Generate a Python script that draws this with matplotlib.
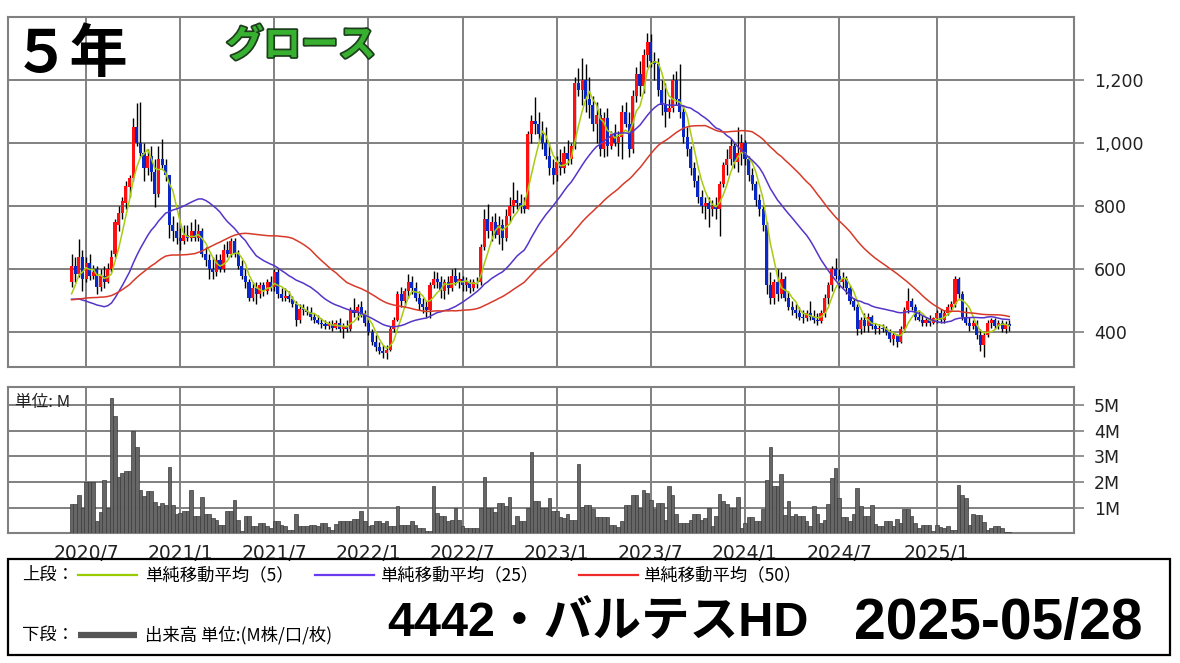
import numpy as np
import pandas as pd
import matplotlib
matplotlib.use("Agg")
import matplotlib.pyplot as plt
from matplotlib import patheffects
from matplotlib.patches import Rectangle

plt.rcParams["font.family"] = ["DejaVu Sans", "Noto Sans CJK JP"]
JP = ["Noto Sans CJK JP", "DejaVu Sans"]

# weekly candles, 2020-06-08 .. 2025-05-26
dates = pd.date_range("2020-06-08", periods=260, freq="W-MON")

opens = [
    560, 610, 585, 640, 570, 620, 580, 600, 545, 580,
    560, 600, 650, 740, 780, 810, 860, 890, 1050, 1000,
    970, 920, 960, 910, 840, 950, 930, 900, 740, 720,
    700, 690, 710, 700, 720, 700, 720, 650, 630, 600,
    590, 630, 600, 660, 650, 690, 650, 610, 580, 560,
    510, 540, 520, 550, 530, 560, 545, 590, 520, 510,
    515, 505, 490, 440, 475, 470, 465, 450, 440, 430,
    425, 420, 425, 415, 430, 410, 420, 410, 470, 460,
    480, 455, 430, 400, 370, 355, 340, 335, 345, 410,
    440, 520, 500, 530, 560, 540, 510, 490, 480, 470,
    550, 570, 560, 530, 560, 540, 580, 560, 570, 550,
    560, 540, 560, 560, 670, 760, 720, 750, 710, 740,
    700, 770, 800, 820, 810, 800, 790, 1030, 1070, 1060,
    1030, 1000, 960, 920, 900, 940, 920, 970, 950, 990,
    1190, 1170, 1200, 1140, 1120, 1060, 1090, 980, 1080, 990,
    1030, 1000, 1020, 1100, 1060, 980, 1150, 1220, 1180, 1280,
    1320, 1260, 1250, 1170, 1120, 1100, 1110, 1200, 1140, 1100,
    1020, 980, 920, 880, 830, 800, 810, 790, 800, 790,
    870, 930, 950, 990, 940, 970, 1000, 950, 900, 870,
    820, 790, 740, 550, 510, 560, 520, 570, 510, 480,
    470, 460, 450, 445, 460, 450, 440, 435, 460, 510,
    550, 600, 580, 560, 570, 540, 500, 480, 410, 440,
    420, 450, 420, 410, 415, 410, 400, 380, 390, 370,
    410, 470, 500, 480, 450, 440, 430, 440, 430, 445,
    460, 440, 460, 480, 490, 570, 520, 450, 430, 420,
    430, 390, 360, 390, 430, 440, 420, 430, 410, 425,
]
highs = [
    650, 640, 695, 660, 640, 650, 615, 610, 600, 610,
    620, 660, 760, 800, 830, 880, 900, 1080, 1126, 1131,
    1000, 980, 990, 950, 990, 1014, 950, 900, 770, 750,
    730, 740, 740, 750, 760, 745, 730, 670, 650, 640,
    650, 650, 680, 690, 700, 700, 660, 630, 600, 570,
    560, 560, 560, 560, 570, 580, 600, 600, 540, 540,
    530, 515, 500, 490, 490, 485, 480, 460, 455, 445,
    440, 435, 440, 440, 445, 430, 440, 480, 509, 490,
    500, 470, 440, 410, 390, 370, 360, 360, 420, 450,
    530, 545, 540, 584, 580, 560, 530, 510, 500, 560,
    594, 590, 580, 570, 580, 600, 605, 590, 580, 575,
    570, 570, 575, 680, 790, 807, 770, 780, 770, 760,
    790, 830, 876, 850, 840, 830, 1040, 1090, 1147, 1100,
    1070, 1050, 1000, 950, 960, 980, 990, 1010, 1000, 1210,
    1237, 1269, 1250, 1210, 1150, 1130, 1110, 1100, 1110, 1040,
    1060, 1040, 1120, 1130, 1100, 1170, 1240, 1260, 1300, 1349,
    1345, 1290, 1270, 1200, 1190, 1140, 1220, 1230, 1250, 1120,
    1050, 990, 940, 900, 850, 830, 830, 820, 830, 880,
    940, 980, 1014, 1000, 1050, 1030, 1010, 960, 920, 880,
    840, 800, 750, 590, 570, 600, 590, 580, 530, 500,
    490, 480, 470, 470, 500, 470, 460, 470, 520, 560,
    610, 637, 600, 590, 580, 550, 510, 490, 450, 460,
    460, 455, 430, 425, 425, 420, 410, 400, 395, 420,
    480, 541, 510, 490, 470, 455, 450, 455, 450, 470,
    475, 470, 490, 500, 578, 575, 530, 480, 450, 440,
    440, 410, 400, 440, 445, 445, 440, 440, 435, 440,
]
lows = [
    545, 560, 575, 530, 560, 565, 570, 520, 530, 540,
    555, 590, 640, 720, 760, 790, 830, 880, 990, 960,
    880, 900, 880, 796, 830, 920, 880, 700, 690, 680,
    660, 680, 690, 690, 690, 690, 640, 610, 570, 568,
    580, 590, 590, 640, 640, 640, 600, 570, 540, 500,
    500, 490, 510, 515, 520, 530, 530, 510, 500, 500,
    495, 480, 420, 430, 455, 455, 440, 430, 425, 415,
    410, 410, 405, 410, 400, 382, 400, 405, 450, 440,
    450, 420, 390, 360, 340, 330, 320, 316, 340, 400,
    435, 480, 485, 510, 520, 500, 470, 460, 450, 446,
    540, 540, 510, 505, 520, 530, 550, 540, 530, 530,
    525, 530, 540, 550, 660, 700, 690, 700, 680, 660,
    690, 750, 780, 790, 780, 780, 790, 1000, 1030, 1010,
    980, 950, 900, 871, 880, 900, 905, 930, 935, 980,
    1150, 1120, 1100, 1080, 1040, 1000, 960, 956, 960, 980,
    990, 960, 950, 1050, 956, 970, 1130, 1150, 1160, 1240,
    1240, 1200, 1150, 1090, 1050, 1080, 1100, 1120, 1080, 1000,
    960, 900, 860, 810, 780, 760, 733, 770, 760, 706,
    860, 900, 930, 920, 910, 930, 930, 880, 850, 800,
    770, 720, 520, 490, 490, 500, 510, 500, 470, 455,
    445, 440, 430, 435, 440, 430, 424, 430, 450, 490,
    530, 570, 540, 540, 520, 490, 470, 393, 395, 400,
    400, 410, 395, 395, 400, 390, 370, 360, 355, 365,
    400, 460, 470, 440, 435, 420, 419, 420, 425, 430,
    430, 430, 455, 470, 480, 510, 440, 424, 403, 410,
    380, 340, 323, 385, 414, 410, 410, 400, 398, 405,
]
closes = [
    610, 585, 640, 570, 620, 580, 590, 545, 580, 560,
    600, 640, 750, 780, 815, 865, 890, 1050, 1000, 970,
    920, 960, 910, 840, 950, 930, 900, 740, 720, 700,
    690, 710, 700, 720, 700, 720, 650, 630, 600, 590,
    630, 600, 660, 650, 690, 650, 610, 580, 560, 510,
    540, 520, 550, 530, 560, 545, 590, 520, 510, 515,
    505, 490, 440, 475, 470, 465, 450, 440, 430, 425,
    420, 425, 415, 430, 410, 420, 410, 470, 460, 480,
    455, 430, 400, 370, 355, 340, 335, 345, 410, 440,
    520, 500, 530, 560, 540, 510, 490, 480, 470, 550,
    570, 560, 530, 560, 540, 580, 560, 570, 550, 560,
    540, 560, 560, 670, 760, 720, 750, 710, 740, 700,
    770, 800, 820, 810, 800, 790, 1030, 1070, 1060, 1030,
    1000, 960, 920, 900, 940, 920, 970, 950, 990, 1190,
    1170, 1200, 1140, 1120, 1060, 1090, 980, 1080, 990, 1030,
    1000, 1020, 1100, 1060, 980, 1150, 1220, 1180, 1280, 1320,
    1260, 1250, 1170, 1120, 1100, 1110, 1200, 1140, 1100, 1020,
    980, 920, 880, 830, 800, 810, 790, 800, 790, 870,
    930, 950, 990, 940, 970, 1000, 950, 900, 870, 820,
    790, 740, 550, 510, 560, 520, 570, 510, 480, 470,
    460, 450, 445, 460, 450, 440, 435, 460, 510, 550,
    600, 580, 560, 570, 540, 500, 480, 410, 440, 420,
    450, 420, 410, 415, 410, 400, 380, 390, 370, 410,
    470, 500, 480, 450, 440, 430, 440, 430, 445, 460,
    440, 460, 480, 490, 570, 520, 450, 430, 420, 430,
    390, 360, 390, 430, 440, 420, 430, 410, 425, 420,
]
# weekly volume, millions of shares
volume = [
    1.15, 1.15, 1.5, 1.0, 2.0, 2.0, 2.0, 0.5, 0.85, 2.07,
    1.0, 5.27, 4.58, 2.2, 2.36, 2.45, 2.45, 4.0, 3.36, 1.7,
    1.45, 1.64, 1.64, 1.23, 1.06, 1.2, 1.12, 2.58, 1.12, 0.77,
    0.8, 0.86, 0.86, 1.7, 0.66, 0.66, 1.42, 0.76, 0.76, 0.6,
    0.53, 0.34, 0.34, 0.86, 0.86, 1.29, 0.53, 0.1, 0.69, 0.69,
    0.27, 0.27, 0.4, 0.4, 0.27, 0.2, 0.47, 0.47, 0.34, 0.27,
    0.14, 0.14, 0.77, 0.27, 0.27, 0.27, 0.34, 0.34, 0.27, 0.4,
    0.4, 0.25, 0.12, 0.37, 0.47, 0.47, 0.5, 0.5, 0.57, 0.57,
    0.86, 0.5, 0.27, 0.34, 0.5, 0.5, 0.4, 0.47, 0.27, 0.27,
    1.08, 0.34, 0.34, 0.34, 0.47, 0.34, 0.2, 0.2, 0.08, 0.08,
    1.86, 0.8, 0.66, 0.66, 0.47, 0.53, 1.0, 0.53, 0.27, 0.2,
    0.2, 0.2, 0.2, 1.0, 2.2, 1.0, 1.0, 0.83, 1.19, 1.19,
    1.08, 1.42, 0.34, 0.69, 0.47, 0.47, 1.0, 3.17, 1.28, 1.28,
    1.0, 1.0, 1.36, 0.86, 0.86, 0.64, 0.6, 0.77, 0.53, 0.53,
    2.72, 1.03, 1.12, 1.12, 0.93, 0.64, 0.64, 0.64, 0.64, 0.34,
    0.34, 0.25, 0.47, 1.12, 1.12, 1.49, 1.49, 1.0, 1.7, 1.58,
    1.29, 0.93, 1.19, 1.19, 0.53, 1.86, 1.49, 0.76, 0.4, 0.4,
    0.4, 0.53, 0.76, 0.76, 0.53, 0.6, 1.0, 0.27, 0.69, 1.55,
    1.28, 1.15, 1.0, 1.0, 1.42, 0.2, 0.4, 0.62, 0.62, 0.47,
    0.47, 0.93, 2.07, 3.38, 1.86, 1.86, 2.3, 0.73, 1.28, 0.66,
    0.77, 0.69, 0.69, 0.47, 0.27, 1.06, 0.77, 0.4, 0.53, 1.15,
    2.14, 2.53, 1.36, 0.64, 0.64, 0.47, 0.77, 1.77, 1.08, 0.66,
    0.66, 1.12, 0.38, 0.27, 0.27, 0.47, 0.47, 0.27, 0.56, 0.4,
    0.93, 0.93, 0.66, 0.4, 0.2, 0.34, 0.34, 0.34, 0.08, 0.34,
    0.25, 0.2, 0.3, 0.12, 0.12, 1.88, 1.51, 1.36, 0.34, 0.77,
    0.7, 0.7, 0.43, 0.12, 0.2, 0.27, 0.27, 0.2, 0.05, 0.05,
]
# closes of the 49 weeks before the window (estimated from where the
# 25/50-week averages start), only used to seed the moving averages
pre_closes = [
    540, 550, 530, 520, 545, 560, 530, 525, 540, 510,
    500, 480, 470, 460, 470, 480, 470, 460, 470, 480,
    490, 470, 480, 490, 525,
    580, 620, 660, 700, 690, 680, 660, 640, 635,
    520, 430, 340, 300, 320, 330, 350, 360, 380, 400,
    420, 450, 480, 520, 550,
]

price_ticks = [400, 600, 800, 1000, 1200]
price_labels = ["400", "600", "800", "1,000", "1,200"]
vol_ticks = [1, 2, 3, 4, 5]
vol_labels = ["1M", "2M", "3M", "4M", "5M"]
month_labels = ["2020/7", "2021/1", "2021/7", "2022/1", "2022/7",
                "2023/1", "2023/7", "2024/1", "2024/7", "2025/1"]
ma_periods = [5, 25, 50]
ma_colors = ["#99cc00", "#6a3cf0", "#ee2a2a"]
ma_line_colors = ["#a8cc10", "#5535c8", "#d83a2a"]

o = np.array(opens, dtype=float)
h = np.array(highs, dtype=float)
l = np.array(lows, dtype=float)
c = np.array(closes, dtype=float)
x = np.arange(len(c))

all_closes = pd.Series(pre_closes + closes, dtype=float)
n_pre = len(pre_closes)
mas = [all_closes.rolling(p).mean().iloc[n_pre:].values for p in ma_periods]

tick_pos = []
for s in month_labels:
    yy, mm = s.split("/")
    start = pd.Timestamp(int(yy), int(mm), 1)
    tick_pos.append(int(np.argmax(dates >= start)))

fig = plt.figure(figsize=(11.8, 6.63), dpi=100)
fig.patch.set_facecolor("white")

ax = fig.add_axes([0.00636, 0.4469, 0.9042, 0.5279])
axv = fig.add_axes([0.00636, 0.1956, 0.9042, 0.2211])

grid_col = "#808080"
for a in (ax, axv):
    a.set_xlim(-17.7, 277)
    a.set_xticks(tick_pos)
    a.grid(True, color=grid_col, lw=1.4, zorder=0)
    a.set_axisbelow(True)
    for sp in a.spines.values():
        sp.set_color(grid_col)
        sp.set_linewidth(1.5)
    a.yaxis.tick_right()
    a.tick_params(axis="y", length=7, width=1.2, color=grid_col,
                  labelsize=12.5, pad=7, labelcolor="#222222")

# price panel
ax.set_ylim(291, 1401)
ax.set_yticks(price_ticks, price_labels)
ax.tick_params(axis="x", length=0, labelbottom=False)

up = c >= o
body_col = np.where(up, "#ff1010", "#0a28c8")
ax.vlines(x, l, h, color="black", lw=1.0, zorder=3)
ax.bar(x, c - o, bottom=o, width=0.85, color=body_col, lw=0, zorder=4)
for ma, col in zip(mas, ma_line_colors):
    ax.plot(x, ma, color=col, lw=1.1, zorder=5)

# volume panel
axv.set_ylim(0, 5.72)
axv.set_yticks(vol_ticks, vol_labels)
axv.set_xticklabels(month_labels)
axv.tick_params(axis="x", length=0, labelsize=13.5, pad=8,
                labelcolor="#222222")
axv.bar(x, volume, width=1.0, color="#666666", edgecolor="#3a3a3a",
        lw=0.5, zorder=3)

# overlay in pixel coordinates for titles and the legend box
ov = fig.add_axes([0, 0, 1, 1], facecolor="none")
ov.set_xlim(0, 1180)
ov.set_ylim(663, 0)
ov.axis("off")

ov.text(12, 55, "５年", fontsize=42, fontweight="bold", family=JP,
        va="center", ha="left", color="black")
ov.text(226, 45, "グロース", fontsize=27, fontweight="bold", family=JP,
        va="center", ha="left", color="#38b030",
        path_effects=[patheffects.withStroke(linewidth=2.5,
                                             foreground="#1d3d1d")])
ov.text(15, 402, "単位: M", fontsize=12, family=JP, va="center",
        ha="left", color="#222222")

ov.add_patch(Rectangle((7.5, 559), 1162.5, 96, fill=False,
                       ec="black", lw=1.6))
ov.text(22, 575, "上段：", fontsize=12.5, family=JP, va="center")
legend_items = [(78, 145, "単純移動平均（5）"),
                (315, 380, "単純移動平均（25）"),
                (579, 643, "単純移動平均（50）")]
for (lx, tx, label), col in zip(legend_items, ma_colors):
    ov.plot([lx, lx + 59], [575, 575], color=col, lw=1.6)
    ov.text(tx, 575, label, fontsize=12.5, family=JP, va="center")

ov.text(22, 635, "下段：", fontsize=12.5, family=JP, va="center")
ov.plot([78, 137], [635, 635], color="#555555", lw=4.5,
        solid_capstyle="butt")
ov.text(145, 635, "出来高 単位:(M株/口/枚)", fontsize=12.5, family=JP,
        va="center")

big_font = ["Liberation Sans", "Noto Sans CJK JP"]
ov.text(387, 624, "4442・バルテスHD", fontsize=35, fontweight="bold",
        family=big_font, va="center", ha="left")
ov.text(854, 624, "2025-05/28", fontsize=41, fontweight="bold",
        family=big_font, va="center", ha="left")

fig.savefig("out.png", dpi=100)
